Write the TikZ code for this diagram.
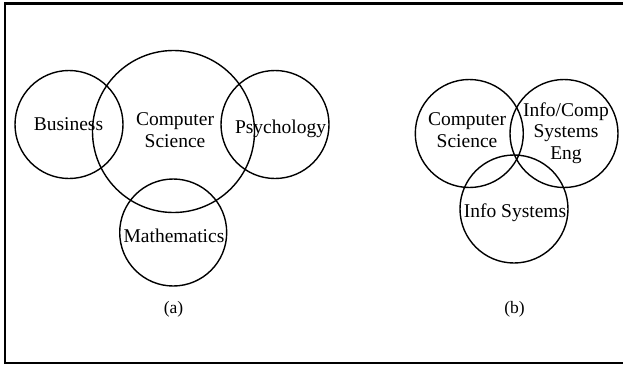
\documentclass[tikz,border=0pt]{standalone}
\usepackage{fontspec}
\setmainfont{Liberation Serif}
\begin{document}
\begin{tikzpicture}[x=1pt,y=-1pt,
  venn/.style={draw=black, line width=1.4pt, circle, inner sep=0pt},
  lbl/.style={font=\fontsize{19.5}{21.5}\selectfont, align=center, inner sep=0pt},
  captxt/.style={font=\fontsize{17.5}{19}\selectfont, inner sep=0pt}]
\useasboundingbox (0,0) rectangle (623,367);
\draw[line width=2.2pt] (5,3.5) rectangle (626,363);
% panel (a)
\node[venn, minimum size=108pt] (bus) at (69,124.5) {};
\node[venn, minimum size=162pt] (csa) at (173.5,131.5) {};
\node[venn, minimum size=108pt] (psy) at (275,124.5) {};
\node[venn, minimum size=107pt] (mat) at (173.2,232.5) {};
\node[lbl] (tbus) at (68.5,124) {Business};
\node[lbl] (tcsa) at (175,130) {Computer\\Science};
\node[lbl] (tpsy) at (280.5,128.5) {Psychology};
\node[lbl] (tmat) at (174,235.5) {Mathematics};
\node[captxt] (ca) at (173.5,309) {(a)};
% panel (b)
\node[venn, minimum size=108pt] (csb) at (469.3,133.5) {};
\node[venn, minimum size=108pt] (ice) at (564,133.5) {};
\node[venn, minimum size=108pt] (isy) at (514,209) {};
\node[lbl] (tcsb) at (467,130) {Computer\\Science};
\node[lbl] (tice) at (566,133) {Info/Comp\\Systems\\Eng};
\node[lbl] (tisy) at (515,212.5) {Info Systems};
\node[captxt] (cb) at (514.5,309) {(b)};
\end{tikzpicture}
\end{document}
